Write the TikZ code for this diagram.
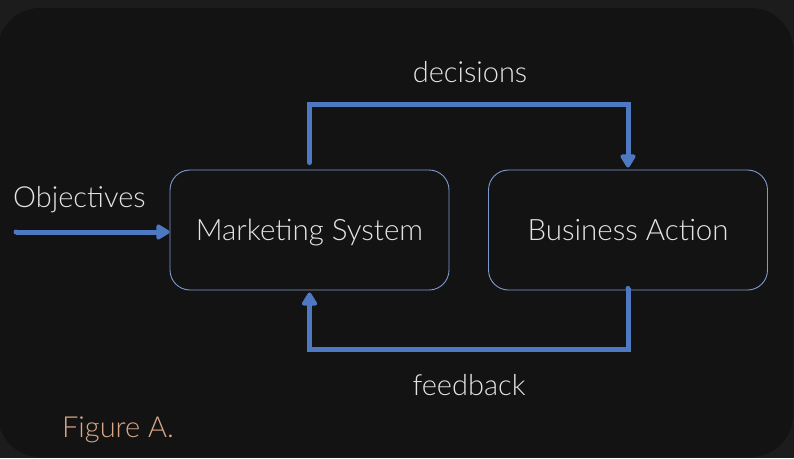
\documentclass[tikz,border=0pt]{standalone}
\usepackage{fontspec}
\setmainfont{Lato}[UprightFont=* Light]
\usetikzlibrary{arrows.meta}
\definecolor{outerbg}{HTML}{1C1C1C}
\definecolor{panelbg}{HTML}{131313}
\definecolor{flow}{HTML}{4E79C2}
\definecolor{boxline}{HTML}{7D9BD0}
\definecolor{labeltext}{HTML}{E4E4E4}
\definecolor{captiontext}{HTML}{D8A887}
\pgfdeclareverticalshading{panelshade}{100bp}{%
  color(0bp)=(black!92); color(6bp)=(panelbg); color(90bp)=(panelbg);
  color(96bp)=(black!72); color(100bp)=(black!55)}
\tikzset{
  blockbox/.style={draw=boxline, line width=0.9pt, rounded corners=20pt,
    minimum width=279pt, minimum height=120pt, fill=panelbg, text depth=0pt,
    text=labeltext, font=\fontsize{29.5}{34}\selectfont},
  flowline/.style={draw=flow, line width=5pt,
    -{Triangle[length=15pt,width=17pt,round]}},
  tag/.style={text=labeltext, font=\fontsize{29}{34}\selectfont, inner sep=0pt}
}
\begin{document}
\begin{tikzpicture}[x=1pt,y=-1pt]
  % backdrop and rounded panel
  \fill[outerbg] (0,0) rectangle (794,458);
  \useasboundingbox (0,0) rectangle (794,458);
  \shade[shading=panelshade, rounded corners=42pt] (-2,8) rectangle (793,457);
  % blocks
  \node[blockbox] (ms) at (309.5,230) {Marketing System};
  \node[blockbox] (ba) at (628,230) {Business Action};
  % input
  \coordinate (objin) at (16,232);
  \draw[flowline] (objin) -- (ms.west |- objin);
  \fill[flow] (objin) circle (2.5pt);
  \node[tag, anchor=base west] (obj) at (13,207) {Objectives};
  % decisions loop
  \draw[flowline] ([yshift=7pt]ms.north) -- ++(0,-58) -| ([yshift=2pt]ba.north);
  \fill[flow] ([yshift=7pt]ms.north) circle (2.5pt);
  \node[tag] (dec) at (470,72) {decisions};
  % feedback loop
  \draw[flowline] ([yshift=2pt]ba.south) -- ++(0,61) -| ([yshift=-2pt]ms.south);
  \fill[flow] ([yshift=2pt]ba.south) circle (2.5pt);
  \node[tag] (fb) at (469,385) {feedback};
  % caption
  \node[tag, text=captiontext, anchor=base west] (cap) at (62,437) {Figure A.};
\end{tikzpicture}
\end{document}
